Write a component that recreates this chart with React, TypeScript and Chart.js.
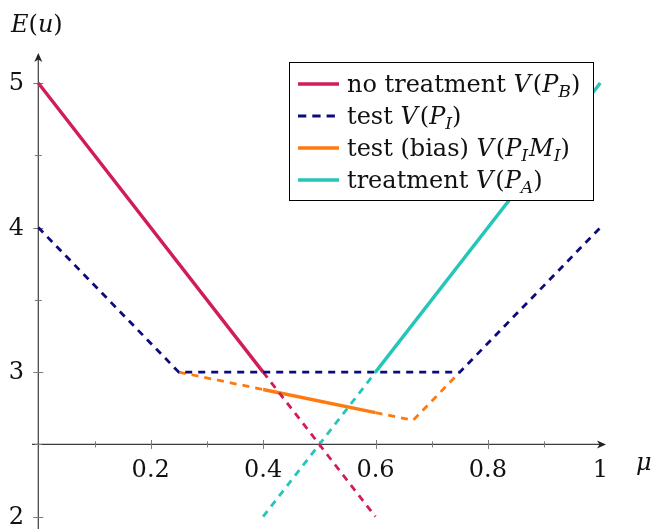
import React, { useEffect, useRef } from "react";
import { Chart, registerables } from "chart.js";

Chart.register(...registerables);

// ---- data ----
const noTreatX = [0, 0.4, 0.6];
const noTreatY = [5, 3, 2];
const testX = [0, 0.25, 0.75, 1];
const testY = [4, 3, 3, 4];
const biasX = [0.25, 0.4, 0.6, 0.667, 0.75];
const biasY = [3, 2.88, 2.72, 2.667, 3];
const treatX = [0.4, 0.6, 1];
const treatY = [2, 3, 5];

const xMajorTicks = [0.2, 0.4, 0.6, 0.8];
const xTickLabels = ["0.2", "0.4", "0.6", "0.8", "1"];
const xLabelValues = [0.2, 0.4, 0.6, 0.8, 1];
const xMinorTicks = [0.1, 0.3, 0.5, 0.7, 0.9];
const yMajorTicks = [2, 3, 4, 5];
const yTickLabels = ["2", "3", "4", "5"];
const yMinorTicks = [2.5, 3.5, 4.5];

type Seg = { t: string; it?: boolean; sub?: boolean; gap?: number };
const legendLabels: Seg[][] = [
  [{ t: "no treatment " }, { t: "V", it: true, gap: 2 }, { t: "(" }, { t: "P", it: true }, { t: "B", it: true, sub: true }, { t: ")" }],
  [{ t: "test " }, { t: "V", it: true, gap: 2 }, { t: "(" }, { t: "P", it: true }, { t: "I", it: true, sub: true }, { t: ")" }],
  [{ t: "test (bias) " }, { t: "V", it: true, gap: 2 }, { t: "(" }, { t: "P", it: true }, { t: "I", it: true, sub: true, gap: 1 }, { t: "M", it: true }, { t: "I", it: true, sub: true }, { t: ")" }],
  [{ t: "treatment " }, { t: "V", it: true, gap: 2 }, { t: "(" }, { t: "P", it: true }, { t: "A", it: true, sub: true }, { t: ")" }],
];
const yAxisTitle: Seg[] = [{ t: "E", it: true }, { t: "(" }, { t: "u", it: true }, { t: ")" }];
const xAxisTitle: Seg[] = [{ t: "μ", it: true }];

const C_RED = "#D01C5B";
const C_NAVY = "#0B0B7E";
const C_ORANGE = "#FF7A0E";
const C_TEAL = "#25C6B8";
const legendColors = [C_RED, C_NAVY, C_ORANGE, C_TEAL];
const legendDashed = [false, true, false, false];

const FONT = '"DejaVu Serif", serif';
const FS = 24;

function pts(xs: number[], ys: number[], a: number, b: number) {
  const out: { x: number; y: number }[] = [];
  for (let i = a; i <= b; i++) out.push({ x: xs[i], y: ys[i] });
  return out;
}

function drawRich(ctx: CanvasRenderingContext2D, segs: Seg[], x: number, y: number, size: number) {
  let cx = x;
  for (const s of segs) {
    const sz = s.sub ? size * 0.72 : size;
    ctx.font = `${s.it ? "italic " : ""}${sz}px ${FONT}`;
    ctx.fillText(s.t, cx, y + (s.sub ? size * 0.2 : 0));
    cx += ctx.measureText(s.t).width + (s.gap || 0);
  }
  return cx - x;
}

const SOLID_W = 3.4;
const DASH_W = 2.8;
const DASH = [7, 6];

export default function App() {
  const ref = useRef<HTMLCanvasElement>(null);
  useEffect(() => {
    const canvas = ref.current!;
    const line = (data: any[], color: string, dashed: boolean) => ({
      data,
      borderColor: color,
      backgroundColor: color,
      borderWidth: dashed ? DASH_W : SOLID_W,
      borderDash: dashed ? DASH : [],
      borderCapStyle: "butt" as const,
      pointRadius: 0,
      showLine: true,
      fill: false,
      tension: 0,
      clip: false as any,
    });

    const axesPlugin = {
      id: "axes",
      beforeDatasetsDraw(chart: any) {
        const ctx: CanvasRenderingContext2D = chart.ctx;
        const xs = chart.scales.x;
        const ys = chart.scales.y;
        const axY = ys.getPixelForValue(2.5);
        const axX = xs.getPixelForValue(0);
        ctx.save();
        ctx.strokeStyle = "#3c3c3c";
        ctx.fillStyle = "#222";
        ctx.lineWidth = 1.2;
        // x axis
        ctx.beginPath();
        ctx.moveTo(32, axY);
        ctx.lineTo(603, axY);
        ctx.stroke();
        ctx.beginPath();
        ctx.moveTo(606, axY);
        ctx.lineTo(597, axY - 4);
        ctx.lineTo(599.5, axY);
        ctx.lineTo(597, axY + 4);
        ctx.closePath();
        ctx.fill();
        // y axis
        ctx.beginPath();
        ctx.moveTo(axX, 529);
        ctx.lineTo(axX, 56);
        ctx.stroke();
        ctx.beginPath();
        ctx.moveTo(axX, 53);
        ctx.lineTo(axX - 4, 62);
        ctx.lineTo(axX, 59.5);
        ctx.lineTo(axX + 4, 62);
        ctx.closePath();
        ctx.fill();
        // ticks
        ctx.strokeStyle = "#7a7a7a";
        ctx.lineWidth = 1;
        for (const v of xMajorTicks) {
          const p = Math.round(xs.getPixelForValue(v)) + 0.5;
          ctx.beginPath();
          ctx.moveTo(p, axY - 4.5);
          ctx.lineTo(p, axY + 4.5);
          ctx.stroke();
        }
        for (const v of xMinorTicks) {
          const p = Math.round(xs.getPixelForValue(v)) + 0.5;
          ctx.beginPath();
          ctx.moveTo(p, axY - 3);
          ctx.lineTo(p, axY + 3);
          ctx.stroke();
        }
        for (const v of yMajorTicks) {
          const p = Math.round(ys.getPixelForValue(v)) + 0.5;
          ctx.beginPath();
          ctx.moveTo(axX - 5, p);
          ctx.lineTo(axX + 5, p);
          ctx.stroke();
        }
        for (const v of yMinorTicks) {
          const p = Math.round(ys.getPixelForValue(v)) + 0.5;
          ctx.beginPath();
          ctx.moveTo(axX - 3.5, p);
          ctx.lineTo(axX + 3.5, p);
          ctx.stroke();
        }
        // tick labels
        ctx.fillStyle = "#111";
        ctx.font = `${FS}px ${FONT}`;
        ctx.textAlign = "center";
        ctx.textBaseline = "alphabetic";
        xLabelValues.forEach((v, i) => {
          ctx.fillText(xTickLabels[i], xs.getPixelForValue(v), axY + 33);
        });
        ctx.textAlign = "right";
        ctx.textBaseline = "middle";
        yMajorTicks.forEach((v, i) => {
          ctx.fillText(yTickLabels[i], 24, ys.getPixelForValue(v) + 1);
        });
        // axis titles
        ctx.textAlign = "left";
        ctx.textBaseline = "alphabetic";
        drawRich(ctx, yAxisTitle, 11, 32, FS);
        drawRich(ctx, xAxisTitle, 636, 470, FS);
        ctx.restore();
      },
      afterDraw(chart: any) {
        const ctx: CanvasRenderingContext2D = chart.ctx;
        ctx.save();
        const bx = 289.5, by = 62.5, bw = 304, bh = 138;
        ctx.fillStyle = "#fff";
        ctx.fillRect(bx, by, bw, bh);
        ctx.strokeStyle = "#000";
        ctx.lineWidth = 1;
        ctx.strokeRect(bx, by, bw, bh);
        const rows = [84, 116, 148, 180];
        legendLabels.forEach((segs, i) => {
          const yy = rows[i];
          ctx.strokeStyle = legendColors[i];
          ctx.lineWidth = legendDashed[i] ? DASH_W : SOLID_W;
          ctx.setLineDash(legendDashed[i] ? [8.3, 6] : []);
          ctx.beginPath();
          ctx.moveTo(298, yy);
          ctx.lineTo(339, yy);
          ctx.stroke();
          ctx.setLineDash([]);
          ctx.fillStyle = "#111";
          ctx.textBaseline = "alphabetic";
          ctx.textAlign = "left";
          drawRich(ctx, segs, 347, yy + 8, FS);
        });
        ctx.restore();
      },
    };

    const chart = new Chart(canvas, {
      type: "scatter",
      data: {
        datasets: [
          line(pts(testX, testY, 0, 3), C_NAVY, true),
          line(pts(noTreatX, noTreatY, 0, 1), C_RED, false),
          line(pts(noTreatX, noTreatY, 1, 2), C_RED, true),
          line(pts(biasX, biasY, 0, 1), C_ORANGE, true),
          line(pts(biasX, biasY, 1, 2), C_ORANGE, false),
          line(pts(biasX, biasY, 2, 4), C_ORANGE, true),
          line(pts(treatX, treatY, 0, 1), C_TEAL, true),
          line(pts(treatX, treatY, 1, 2), C_TEAL, false),
        ] as any,
      },
      options: {
        animation: false,
        responsive: false,
        events: [],
        layout: { padding: { left: 38.3, right: 52.7, top: 83, bottom: 12.3 } },
        scales: {
          x: { type: "linear", min: 0, max: 1, display: false },
          y: { type: "linear", min: 2, max: 5, display: false },
        },
        plugins: { legend: { display: false }, tooltip: { enabled: false } },
      },
      plugins: [axesPlugin],
    });
    return () => chart.destroy();
  }, []);
  return (
    <div style={{ position: "fixed", left: 0, top: 0, width: 653, height: 529, background: "#fff" }}>
      <canvas ref={ref} width={653} height={529} />
    </div>
  );
}
